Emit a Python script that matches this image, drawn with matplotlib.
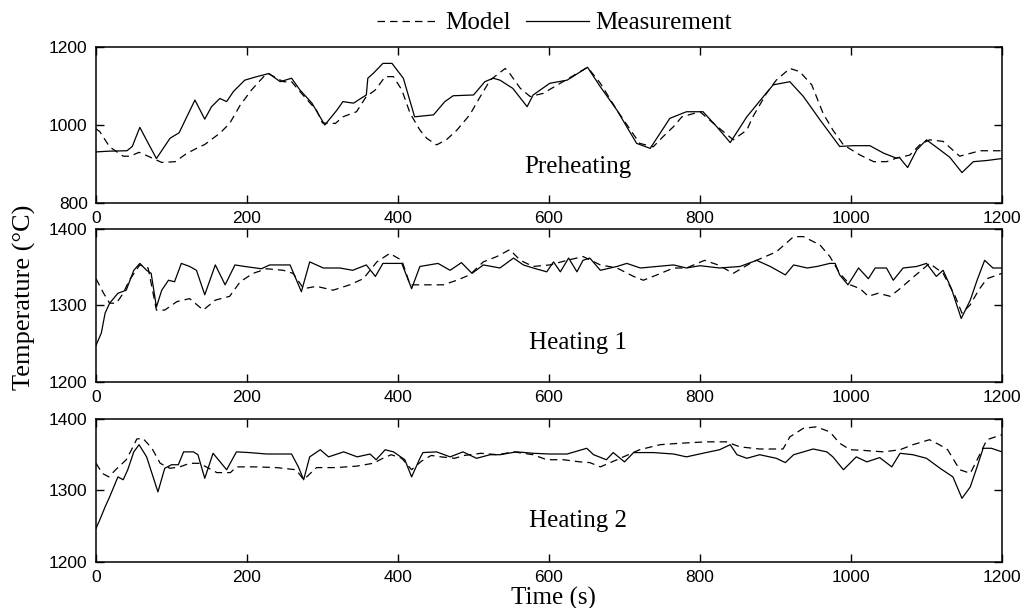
import matplotlib
matplotlib.use("Agg")
import matplotlib.pyplot as plt
import numpy as np

# preheating zone
pre_t_meas = [0, 18, 41, 48, 58, 70, 80, 98, 110, 131, 144, 153, 164, 173, 182, 197, 213, 229, 244, 259,
              270, 286, 303, 319, 327, 341, 358, 360, 367, 380, 392, 407, 422, 447, 462, 473, 500, 515, 526, 535,
              552, 571, 579, 601, 624, 651, 668, 690, 716, 734, 760, 782, 804, 822, 840, 862, 884, 897, 919, 937,
              959, 985, 1003, 1025, 1043, 1060, 1064, 1075, 1087, 1100, 1118, 1131, 1147, 1162, 1180, 1200]
pre_meas = [931, 933, 934, 945, 994, 950, 914, 966, 980, 1064, 1015, 1047, 1068, 1060, 1086, 1115, 1124, 1132, 1111, 1120,
            1090, 1056, 1000, 1038, 1060, 1056, 1077, 1120, 1132, 1158, 1158, 1120, 1021, 1026, 1060, 1075, 1077, 1111, 1120, 1115,
            1094, 1047, 1077, 1107, 1115, 1148, 1098, 1038, 953, 940, 1017, 1034, 1034, 996, 955, 1021, 1073, 1103, 1111, 1073,
            1013, 945, 947, 947, 928, 915, 917, 891, 936, 962, 936, 917, 878, 906, 909, 914]
pre_t_model = [0, 5, 18, 36, 45, 57, 69, 87, 105, 120, 133, 144, 164, 177, 191, 206, 222, 228, 248, 259,
               274, 292, 300, 317, 327, 345, 358, 370, 383, 394, 405, 416, 429, 438, 451, 464, 478, 495, 509, 522,
               542, 548, 562, 575, 592, 615, 637, 651, 668, 690, 720, 738, 751, 765, 776, 800, 818, 844, 862, 870,
               888, 901, 919, 932, 948, 963, 976, 990, 1012, 1030, 1047, 1060, 1078, 1091, 1104, 1122, 1144, 1171, 1200]
pre_model = [990, 983, 944, 920, 920, 930, 920, 904, 906, 927, 940, 950, 979, 1004, 1051, 1090, 1124, 1132, 1111, 1111,
             1077, 1038, 1005, 1004, 1021, 1034, 1073, 1090, 1124, 1124, 1090, 1030, 987, 966, 949, 962, 987, 1026, 1073, 1115,
             1145, 1132, 1094, 1073, 1081, 1107, 1132, 1148, 1107, 1038, 953, 944, 970, 996, 1021, 1034, 1004, 962, 987, 1021,
             1081, 1115, 1145, 1137, 1103, 1030, 987, 949, 923, 906, 906, 915, 923, 949, 962, 958, 920, 934, 934]

# heating zone 1
h1_t_meas = [0, 7, 12, 18, 29, 40, 50, 58, 67, 73, 80, 87, 96, 104, 113, 124, 133, 144, 158, 171,
             184, 197, 219, 230, 257, 272, 283, 301, 323, 340, 358, 370, 380, 405, 418, 429, 453, 469, 484, 498,
             513, 535, 553, 566, 579, 597, 606, 615, 626, 637, 645, 654, 668, 690, 703, 721, 743, 765, 782, 800,
             826, 853, 875, 893, 913, 924, 942, 955, 972, 979, 985, 996, 1010, 1023, 1032, 1047, 1056, 1069, 1087, 1100,
             1113, 1122, 1133, 1146, 1158, 1167, 1177, 1188, 1200]
h1_meas = [1248, 1264, 1290, 1303, 1316, 1320, 1346, 1355, 1346, 1342, 1298, 1320, 1333, 1331, 1355, 1351, 1346, 1314, 1353, 1327,
           1353, 1351, 1348, 1353, 1353, 1318, 1357, 1349, 1349, 1346, 1353, 1338, 1355, 1355, 1322, 1351, 1355, 1346, 1356, 1342,
           1353, 1349, 1362, 1353, 1349, 1344, 1357, 1344, 1362, 1344, 1359, 1362, 1346, 1351, 1355, 1349, 1351, 1353, 1349, 1352,
           1349, 1351, 1359, 1351, 1340, 1353, 1349, 1351, 1355, 1355, 1340, 1327, 1349, 1335, 1349, 1349, 1333, 1349, 1351, 1355,
           1338, 1346, 1322, 1283, 1307, 1333, 1359, 1349, 1349]
h1_t_model = [0, 10, 18, 27, 36, 44, 58, 69, 80, 91, 107, 124, 142, 158, 177, 191, 208, 226, 248, 261,
              275, 292, 314, 336, 354, 372, 389, 405, 416, 433, 460, 478, 495, 513, 531, 548, 562, 579, 601, 624,
              645, 668, 690, 712, 725, 743, 765, 782, 806, 824, 844, 870, 901, 924, 937, 959, 972, 985, 999, 1012,
              1023, 1036, 1052, 1065, 1080, 1104, 1122, 1138, 1147, 1158, 1169, 1180, 1200]
h1_model = [1335, 1316, 1303, 1303, 1316, 1333, 1353, 1349, 1294, 1294, 1305, 1309, 1294, 1307, 1312, 1331, 1342, 1348, 1346, 1342,
            1322, 1325, 1320, 1327, 1335, 1357, 1368, 1359, 1327, 1327, 1327, 1333, 1340, 1357, 1364, 1373, 1359, 1351, 1353, 1359,
            1364, 1353, 1349, 1338, 1333, 1340, 1349, 1349, 1359, 1353, 1342, 1357, 1370, 1390, 1390, 1379, 1364, 1342, 1327, 1322,
            1312, 1316, 1312, 1322, 1335, 1355, 1342, 1312, 1290, 1301, 1320, 1335, 1342]

# heating zone 2
h2_t_meas = [0, 5, 12, 18, 29, 36, 42, 50, 57, 67, 82, 91, 100, 109, 116, 129, 135, 144, 155, 173,
             186, 203, 226, 259, 268, 275, 283, 297, 308, 328, 346, 363, 371, 383, 394, 409, 418, 429, 433, 451,
             469, 486, 504, 522, 535, 557, 579, 601, 624, 650, 659, 676, 685, 700, 712, 738, 765, 782, 808, 826,
             840, 849, 862, 879, 901, 913, 924, 950, 968, 976, 990, 1007, 1021, 1038, 1054, 1065, 1082, 1100, 1118, 1135,
             1147, 1158, 1167, 1175, 1186, 1200]
h2_meas = [1247, 1259, 1277, 1291, 1319, 1315, 1329, 1354, 1364, 1347, 1298, 1331, 1336, 1336, 1354, 1354, 1350, 1317, 1352, 1329,
           1354, 1353, 1351, 1351, 1333, 1315, 1347, 1357, 1347, 1354, 1347, 1351, 1343, 1357, 1354, 1343, 1319, 1345, 1353, 1354,
           1347, 1354, 1345, 1350, 1350, 1354, 1352, 1351, 1351, 1359, 1350, 1343, 1353, 1340, 1353, 1353, 1351, 1347, 1353, 1357,
           1364, 1350, 1345, 1350, 1345, 1339, 1350, 1358, 1354, 1347, 1329, 1347, 1340, 1346, 1333, 1352, 1350, 1345, 1331, 1319,
           1289, 1305, 1333, 1359, 1359, 1354]
h2_t_model = [0, 3, 8, 17, 26, 40, 47, 54, 62, 74, 85, 98, 111, 124, 137, 160, 178, 186, 212, 239,
              265, 275, 292, 318, 345, 367, 380, 391, 405, 418, 431, 444, 457, 475, 488, 510, 532, 553, 579, 597,
              619, 641, 654, 668, 690, 720, 747, 773, 808, 835, 853, 879, 910, 919, 937, 954, 972, 985, 999, 1017,
              1043, 1065, 1082, 1104, 1117, 1128, 1144, 1158, 1169, 1180, 1200]
h2_model = [1338, 1333, 1324, 1319, 1329, 1343, 1357, 1372, 1373, 1359, 1338, 1331, 1333, 1338, 1338, 1325, 1325, 1333, 1333, 1332,
            1329, 1315, 1332, 1332, 1334, 1338, 1345, 1350, 1345, 1329, 1341, 1349, 1347, 1345, 1349, 1352, 1350, 1354, 1350, 1343,
            1343, 1340, 1339, 1333, 1343, 1357, 1364, 1366, 1368, 1368, 1361, 1358, 1358, 1375, 1387, 1389, 1382, 1366, 1357, 1356,
            1354, 1357, 1364, 1371, 1364, 1357, 1329, 1324, 1347, 1371, 1378]

zone_names = ["Preheating", "Heating 1", "Heating 2"]
y_limits = [(800, 1200), (1200, 1400), (1200, 1400)]
y_ticks = [[800, 1000, 1200], [1200, 1300, 1400], [1200, 1300, 1400]]
x_ticks = [0, 200, 400, 600, 800, 1000, 1200]

serif = "Liberation Serif"
sans = "Liberation Sans"

fig = plt.figure(figsize=(10.26, 6.08), dpi=100)

# axes boxes in figure fraction (left, bottom, width, height)
boxes = [(0.0936, 0.6661, 0.8830, 0.2566),
         (0.0936, 0.3717, 0.8830, 0.2517),
         (0.0936, 0.0757, 0.8830, 0.2352)]
label_y = [0.23, 0.255, 0.29]

series = [(pre_t_model, pre_model, pre_t_meas, pre_meas),
          (h1_t_model, h1_model, h1_t_meas, h1_meas),
          (h2_t_model, h2_model, h2_t_meas, h2_meas)]

for i in range(3):
    ax = fig.add_axes(boxes[i])
    tm, m, ts, s = series[i]
    ax.plot(tm, m, color="black", lw=0.9, linestyle=(0, (6, 4)), label="Model")
    ax.plot(ts, s, color="black", lw=0.9, label="Measurement")
    ax.set_xlim(0, 1200)
    ax.set_ylim(*y_limits[i])
    ax.set_xticks(x_ticks)
    ax.set_yticks(y_ticks[i])
    ax.tick_params(direction="in", length=6, width=1, top=True, right=True,
                   labelsize=12.5, pad=6)
    for lab in ax.get_xticklabels() + ax.get_yticklabels():
        lab.set_family(sans)
    for sp in ax.spines.values():
        sp.set_linewidth(1.1)
    ax.text(0.532, label_y[i], zone_names[i], transform=ax.transAxes,
            ha="center", va="center", fontsize=18, family=serif)
    if i == 0:
        handles, labels = ax.get_legend_handles_labels()

fig.legend(handles, labels, loc="center", bbox_to_anchor=(0.54, 0.962), ncol=2,
           frameon=False, handlelength=2.5, handletextpad=0.25, columnspacing=0.6,
           prop={"family": serif, "size": 18})
fig.text(0.0234, 0.511, "Temperature (\u00b0C)", rotation=90, ha="center", va="center",
         fontsize=19, family=serif)
fig.text(0.539, 0.016, "Time (s)", ha="center", va="center", fontsize=18, family=serif)

plt.savefig("out.png", dpi=100)
